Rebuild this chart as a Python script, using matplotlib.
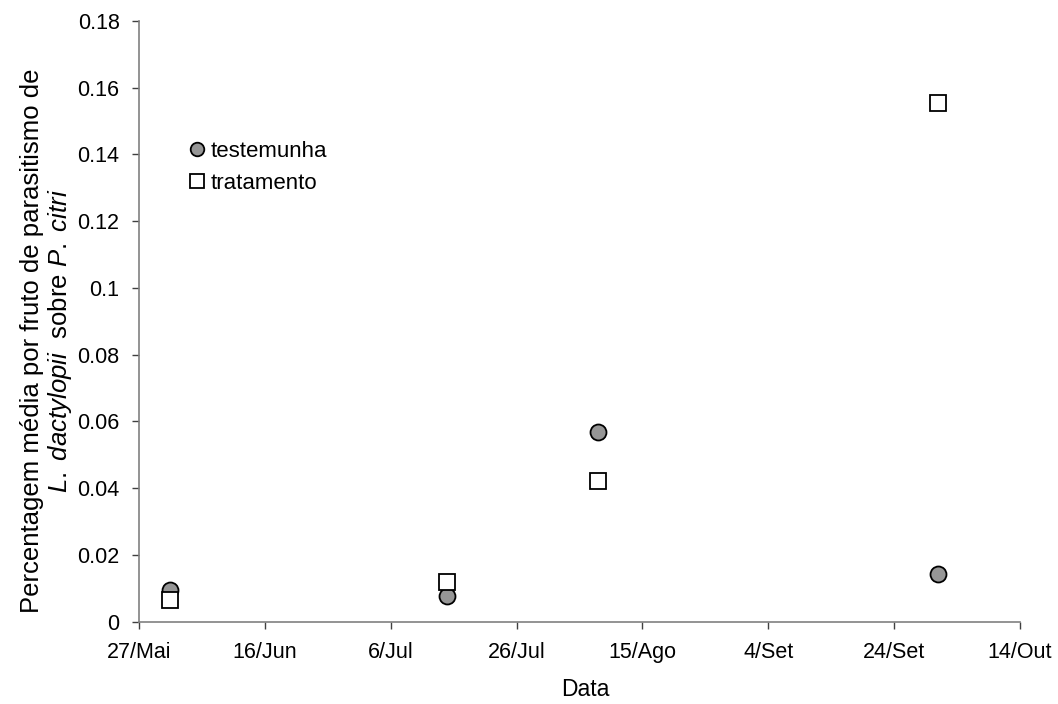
import datetime as dt
import matplotlib
matplotlib.use('Agg')
import matplotlib.pyplot as plt

plt.rcParams['font.family'] = ['Liberation Sans', 'DejaVu Sans']
plt.rcParams['mathtext.fontset'] = 'custom'
plt.rcParams['mathtext.rm'] = 'Liberation Sans'
plt.rcParams['mathtext.it'] = 'Liberation Sans:italic'

# ── dados ─────────────────────────────────────────────────────────────────────
datas = ['2008-06-01', '2008-07-15', '2008-08-08', '2008-10-01']
testemunha = [0.0094, 0.0076, 0.0568, 0.0142]
tratamento = [0.0064, 0.0119, 0.0420, 0.1553]

meses = ['Jan', 'Fev', 'Mar', 'Abr', 'Mai', 'Jun',
         'Jul', 'Ago', 'Set', 'Out', 'Nov', 'Dez']

x = [dt.datetime.strptime(d, '%Y-%m-%d') for d in datas]
x_ini = dt.datetime(2008, 5, 27)
x_fim = dt.datetime(2008, 10, 14)

W, H = 1058, 704
fig = plt.figure(figsize=(W / 100, H / 100), dpi=100, facecolor='white')
ax = fig.add_axes([139 / W, 1 - 621.5 / H, 881 / W, 600.5 / H])

ax.plot(x, testemunha, linestyle='none', marker='o', markersize=11.5,
        markerfacecolor='#969696', markeredgecolor='black', markeredgewidth=1.3,
        label='testemunha', zorder=3)
ax.plot(x, tratamento, linestyle='none', marker='s', markersize=11.5,
        markerfacecolor='white', markeredgecolor='black', markeredgewidth=1.3,
        label='tratamento', zorder=3)

# ── eixos ─────────────────────────────────────────────────────────────────────
ax.set_xlim(x_ini, x_fim)
ax.set_ylim(0, 0.18)
ax.set_yticks([0, 0.02, 0.04, 0.06, 0.08, 0.1, 0.12, 0.14, 0.16, 0.18])
ax.set_yticklabels(['0', '0.02', '0.04', '0.06', '0.08', '0.1',
                    '0.12', '0.14', '0.16', '0.18'])

ticks = [x_ini + dt.timedelta(days=20 * i) for i in range(8)]
ax.set_xticks(ticks)
ax.set_xticklabels([f'{t.day}/{meses[t.month - 1]}' for t in ticks])

for s in ['top', 'right']:
    ax.spines[s].set_visible(False)
for s in ['left', 'bottom']:
    ax.spines[s].set_color('#808080')
    ax.spines[s].set_linewidth(1.2)
ax.tick_params(axis='both', direction='out', length=5, width=1,
               color='#404040', labelsize=15.5)
ax.tick_params(axis='y', pad=9)
ax.tick_params(axis='x', pad=10)

fig.text(585 / W, 1 - 690 / H, 'Data', fontsize=16.5, ha='center', va='center')
fig.text(47 / W, 1 - 341 / H,
         'Percentagem média por fruto de parasitismo de\n'
         r'$\mathit{L.\ dactylopii}$  sobre $\mathit{P.\ citri}$',
         fontsize=18.5, rotation=90, ha='center', va='center',
         multialignment='center', linespacing=1.1)

ax.legend(loc='upper left', bbox_to_anchor=(0.047, 0.815), frameon=False,
          fontsize=16, handlelength=0.7, handletextpad=0.25, markerscale=0.85,
          labelspacing=0.5, borderaxespad=0)

plt.savefig('out.png', dpi=100, facecolor='white')
